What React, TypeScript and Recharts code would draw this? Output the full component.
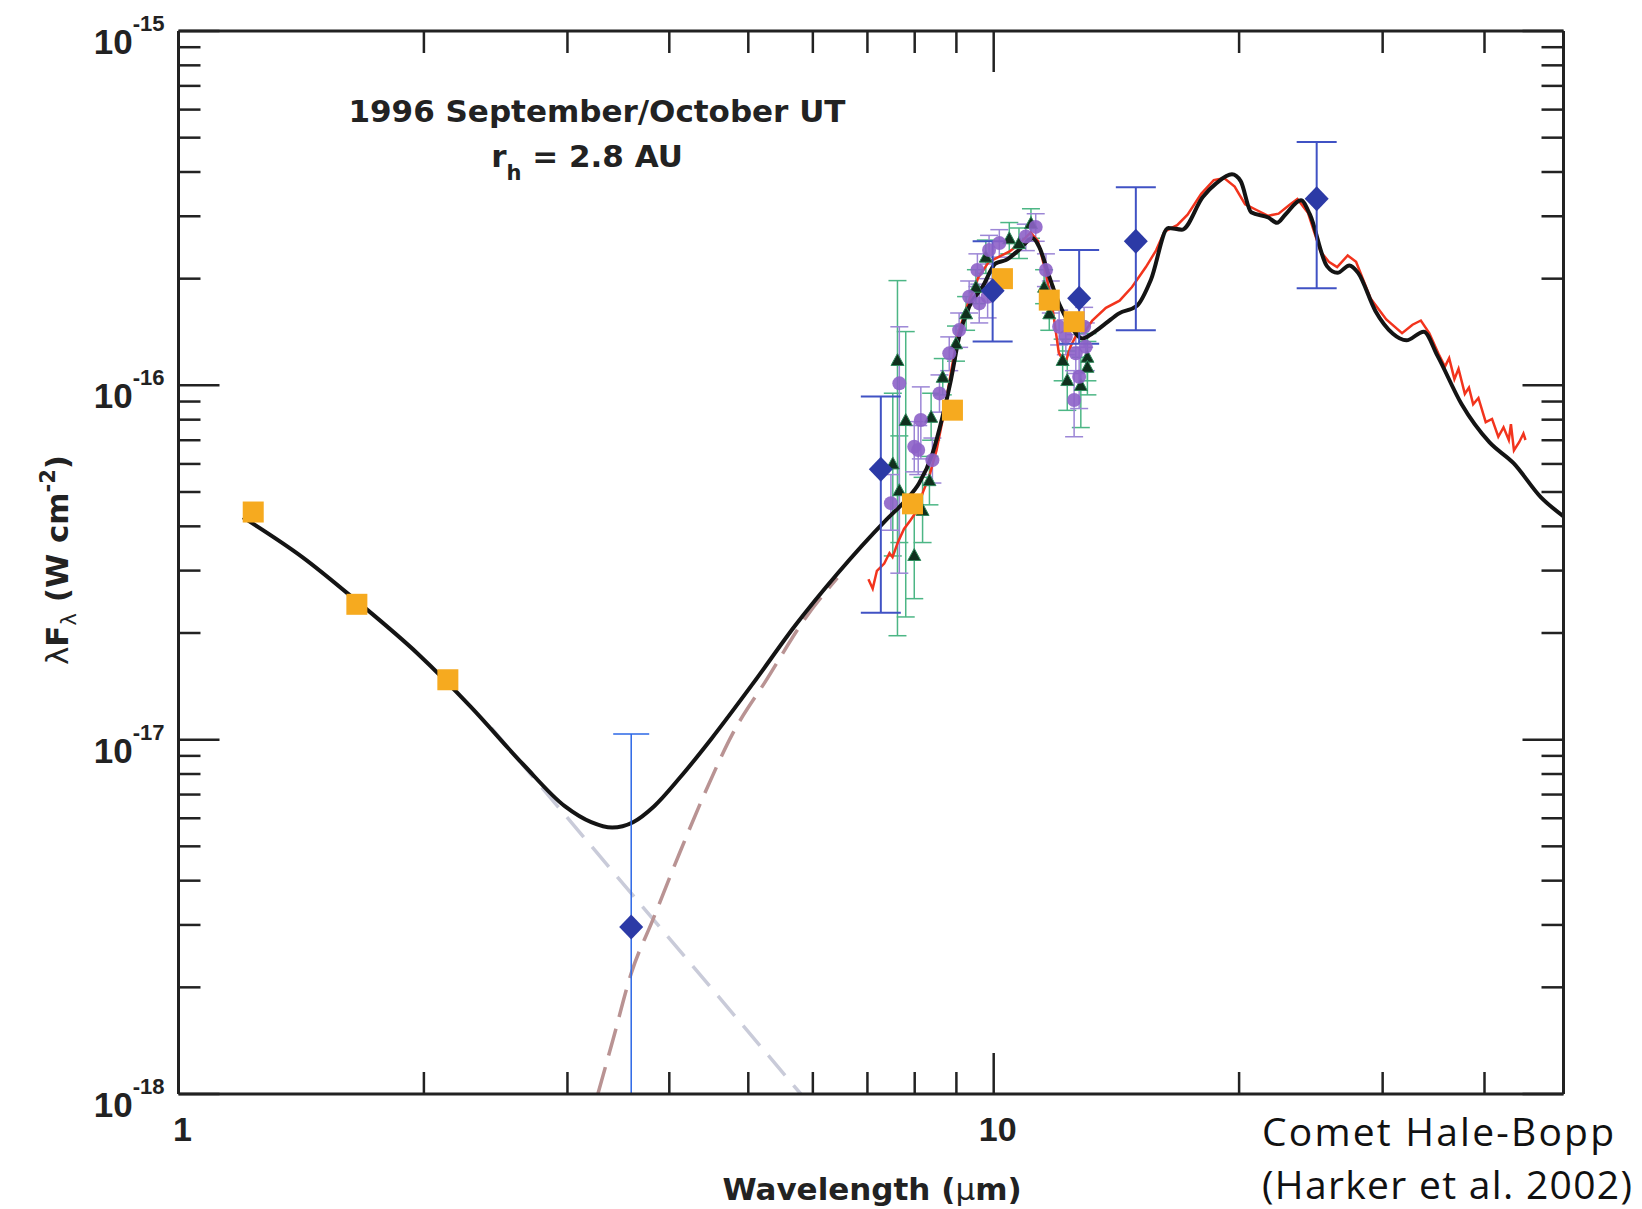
import React from "react";
import { ComposedChart, Line, Scatter, XAxis, YAxis, ErrorBar } from "recharts";

type Pt = [number, number]; // wavelength (µm), λFλ (W cm^-2)
type ErrPt = [number, number, number, number]; // w, f, low, high

// model fit (solid black)
const MODEL_FIT: Pt[] = [
  [1.2, 4.24e-17], [1.42, 3.27e-17], [1.655, 2.46e-17], [1.97, 1.74e-17], [2.285, 1.236e-17],
  [2.648, 8.51e-18], [2.98, 6.48e-18], [3.208, 5.85e-18], [3.404, 5.65e-18], [3.611, 5.85e-18],
  [3.83, 6.48e-18], [4.125, 7.83e-18], [4.508, 1.008e-17], [5.073, 1.446e-17], [5.708, 2.1e-17],
  [6.426, 2.935e-17], [7.376, 4.165e-17], [7.8, 4.74e-17], [8.1, 5.29e-17], [8.414, 6.43e-17],
  [8.654, 8.15e-17], [8.861, 1.035e-16], [9.07, 1.371e-16], [9.33, 1.666e-16], [9.69, 1.897e-16],
  [10.06, 2.21e-16], [10.35, 2.257e-16], [10.74, 2.41e-16], [11.16, 2.6e-16], [11.37, 2.46e-16],
  [11.7, 2.025e-16], [12.03, 1.7e-16], [12.38, 1.495e-16], [12.85, 1.356e-16], [13.21, 1.401e-16],
  [13.72, 1.495e-16], [14.25, 1.596e-16], [14.99, 1.677e-16], [15.59, 1.986e-16], [16.37, 2.78e-16],
  [17.02, 2.75e-16], [18.05, 3.4e-16], [18.76, 3.72e-16], [19.6, 3.94e-16], [20.09, 3.77e-16],
  [20.69, 3.08e-16], [21.73, 2.975e-16], [22.26, 2.875e-16], [22.81, 3.04e-16], [23.82, 3.33e-16],
  [24.42, 3.04e-16], [25.63, 2.17e-16], [26.4, 2.077e-16], [27.31, 2.18e-16], [27.99, 2.077e-16],
  [29.39, 1.622e-16], [30.86, 1.401e-16], [32.08, 1.34e-16], [33.69, 1.417e-16], [35.03, 1.211e-16],
  [37.5, 8.84e-17], [40.55, 6.91e-17], [43.42, 6.03e-17], [46.95, 4.82e-17], [50, 4.27e-17],
];

// mid-IR spectrum (red)
const SPECTRUM: Pt[] = [
  [7.02, 2.837e-17], [7.105, 2.668e-17], [7.19, 2.996e-17], [7.34, 3.14e-17], [7.45, 3.363e-17],
  [7.515, 3.273e-17], [7.627, 3.6e-17], [7.762, 3.933e-17], [7.901, 4.154e-17], [8.043, 4.416e-17],
  [8.187, 4.99e-17], [8.334, 5.527e-17], [8.508, 6.55e-17], [8.686, 8.315e-17], [8.842, 1.055e-16],
  [9.027, 1.385e-16], [9.297, 1.699e-16], [9.574, 2.014e-16], [9.862, 2.231e-16], [10.16, 2.308e-16],
  [10.46, 2.388e-16], [10.78, 2.522e-16], [11.1, 2.7e-16], [11.33, 2.557e-16], [11.6, 2.056e-16],
  [11.81, 1.643e-16], [12.02, 1.234e-16], [12.24, 1.153e-16], [12.42, 1.285e-16], [12.72, 1.433e-16],
  [12.98, 1.433e-16], [13.21, 1.524e-16], [13.73, 1.654e-16], [14.27, 1.734e-16], [14.78, 1.895e-16],
  [15.37, 2.157e-16], [15.82, 2.404e-16], [16.2, 2.717e-16], [16.79, 2.831e-16], [17.29, 3.03e-16],
  [17.97, 3.472e-16], [18.62, 3.793e-16], [19.17, 3.846e-16], [19.75, 3.64e-16], [20.34, 3.244e-16],
  [20.95, 3.135e-16], [21.71, 3.01e-16], [22.36, 3.051e-16], [23.03, 3.222e-16], [23.58, 3.357e-16],
  [24.29, 3.072e-16], [25.17, 2.388e-16], [25.77, 2.231e-16], [26.38, 2.157e-16], [27.18, 2.325e-16],
  [27.83, 2.231e-16], [29.0, 1.758e-16], [30.31, 1.535e-16], [31.69, 1.404e-16], [32.64, 1.483e-16],
  [33.42, 1.524e-16], [34.22, 1.404e-16], [35.14, 1.226e-16], [35.77, 1.129e-16], [36.2, 1.193e-16],
  [36.74, 1.041e-16], [37.17, 1.114e-16], [37.84, 9.46e-17], [38.28, 9.86e-17], [38.74, 8.84e-17],
  [39.32, 9.21e-17], [40.14, 7.87e-17], [40.86, 8.04e-17], [41.59, 7.16e-17], [42.21, 7.61e-17],
  [42.84, 7.01e-17], [43.1, 7.77e-17], [43.47, 6.55e-17], [44.13, 6.92e-17], [44.65, 7.31e-17],
  [44.91, 7.01e-17],
];

// scattered-light component (grey dashed) and thermal component (brown dashed)
const SCATTERED: Pt[] = [[2.42, 1.08e-17], [5.8, 1.0e-18]];
const THERMAL: Pt[] = [
  [3.269, 1.0e-18], [3.411, 1.42e-18], [3.592, 2.19e-18], [3.818, 3.1e-18], [4.117, 4.78e-18],
  [4.438, 7.2e-18], [4.784, 1.04e-17], [5.258, 1.47e-17], [5.88, 2.21e-17], [6.43, 2.86e-17],
];

// photometry
const SQUARES: Pt[] = [
  [1.235, 4.39e-17], [1.655, 2.41e-17], [2.14, 1.476e-17], [7.95, 4.63e-17],
  [8.9, 8.51e-17], [10.25, 2.0e-16], [11.7, 1.74e-16], [12.55, 1.512e-16],
];
// lower error of the 3.6 µm point runs off the bottom of the plot
const DIAMOND_L: ErrPt[] = [[3.592, 2.96e-18, 1e-18, 1.037e-17]];
const DIAMONDS: ErrPt[] = [
  [7.27, 5.8e-17, 2.28e-17, 9.3e-17], [9.97, 1.85e-16, 1.33e-16, 2.55e-16],
  [12.73, 1.76e-16, 1.31e-16, 2.41e-16], [14.94, 2.55e-16, 1.43e-16, 3.62e-16],
  [24.9, 3.36e-16, 1.88e-16, 4.86e-16],
];
const CIRCLES: ErrPt[] = [
  [7.48, 4.65e-17, 3.9e-17, 5.6e-17], [7.66, 1.013e-16, 2.95e-17, 1.463e-16],
  [7.99, 6.71e-17, 5.7e-17, 7.9e-17], [8.08, 6.57e-17, 5.6e-17, 7.7e-17],
  [8.14, 7.98e-17, 6.2e-17, 9.9e-17], [8.41, 6.15e-17, 5.3e-17, 7.1e-17],
  [8.58, 9.49e-17, 8.4e-17, 1.07e-16], [8.82, 1.231e-16, 1.1e-16, 1.37e-16],
  [9.07, 1.432e-16, 1.28e-16, 1.6e-16], [9.33, 1.778e-16, 1.6e-16, 1.97e-16],
  [9.55, 2.115e-16, 1.9e-16, 2.35e-16], [9.6, 1.703e-16, 1.5e-16, 1.93e-16],
  [9.83, 1.778e-16, 1.55e-16, 2.0e-16], [9.87, 2.41e-16, 2.2e-16, 2.65e-16],
  [10.16, 2.52e-16, 2.3e-16, 2.75e-16], [10.95, 2.63e-16, 2.4e-16, 2.85e-16],
  [11.26, 2.8e-16, 2.55e-16, 3.05e-16], [11.59, 2.115e-16, 1.9e-16, 2.35e-16],
  [11.75, 1.778e-16, 1.6e-16, 1.97e-16], [12.03, 1.463e-16, 1.3e-16, 1.63e-16],
  [12.26, 1.371e-16, 1.22e-16, 1.53e-16], [12.55, 9.09e-17, 7.16e-17, 1.1e-16],
  [12.61, 1.231e-16, 1.08e-16, 1.39e-16], [12.73, 1.057e-16, 8.6e-17, 1.28e-16],
  [12.91, 1.463e-16, 1.28e-16, 1.66e-16], [12.97, 1.285e-16, 1.1e-16, 1.5e-16],
];
const TRIANGLES: ErrPt[] = [
  [7.52, 6.02e-17, 3.3e-17, 9.5e-17], [7.62, 1.179e-16, 1.965e-17, 1.975e-16],
  [7.66, 5.06e-17, 3.6e-17, 7.2e-17], [7.8, 7.98e-17, 2.22e-17, 1.418e-16],
  [7.99, 3.32e-17, 2.5e-17, 4.4e-17], [8.18, 4.45e-17, 3.6e-17, 5.5e-17],
  [8.34, 5.4e-17, 4.6e-17, 6.3e-17], [8.38, 8.15e-17, 7.0e-17, 9.5e-17],
  [8.66, 1.057e-16, 9.4e-17, 1.19e-16], [8.99, 1.314e-16, 1.17e-16, 1.47e-16],
  [9.25, 1.597e-16, 1.43e-16, 1.78e-16], [9.51, 1.898e-16, 1.7e-16, 2.12e-16],
  [9.78, 2.307e-16, 2.07e-16, 2.57e-16], [10.45, 2.6e-16, 2.35e-16, 2.88e-16],
  [10.74, 2.52e-16, 2.28e-16, 2.78e-16], [11.11, 2.87e-16, 2.6e-16, 3.15e-16],
  [11.53, 1.898e-16, 1.7e-16, 2.12e-16], [11.7, 1.597e-16, 1.43e-16, 1.78e-16],
  [12.15, 1.179e-16, 1.03e-16, 1.35e-16], [12.31, 1.035e-16, 8.5e-17, 1.25e-16],
  [12.79, 1.002e-16, 7.6e-17, 1.2e-16], [13.03, 1.204e-16, 1.03e-16, 1.4e-16],
  [13.03, 1.128e-16, 9.4e-17, 1.33e-16],
];

const X_TICKS = [1, 2, 3, 4, 5, 6, 7, 8, 9, 10, 20, 30, 40];
const Y_TICKS = [
  1e-18, 2e-18, 3e-18, 4e-18, 5e-18, 6e-18, 7e-18, 8e-18, 9e-18,
  1e-17, 2e-17, 3e-17, 4e-17, 5e-17, 6e-17, 7e-17, 8e-17, 9e-17,
  1e-16, 2e-16, 3e-16, 4e-16, 5e-16, 6e-16, 7e-16, 8e-16, 9e-16, 1e-15,
];

const rows = (pts: Pt[]) => pts.map(([w, f]) => ({ w, f }));
const errRows = (pts: ErrPt[]) => pts.map(([w, f, lo, hi]) => ({ w, f, err: [f - lo, hi - f] }));

const isDecade = (v: number) => {
  const e = Math.log10(v);
  return Math.abs(e - Math.round(e)) < 1e-6;
};

const AXIS = "#222";
const TICK_FONT = "'Liberation Sans', Arial, sans-serif";
const LABEL_FONT = "'DejaVu Sans', sans-serif";

function BottomTick({ x, y, payload }: any) {
  const major = isDecade(payload.value);
  return (
    <g>
      <line x1={x} y1={y} x2={x} y2={y - (major ? 41 : 22)} stroke={AXIS} strokeWidth={2.5} />
      {major && (
        <text x={x + 4} y={y + 47} textAnchor="middle" fontFamily={TICK_FONT} fontWeight="bold" fontSize={34} fill={AXIS}>
          {payload.value}
        </text>
      )}
    </g>
  );
}

function TopTick({ x, y, payload }: any) {
  const major = isDecade(payload.value);
  return <line x1={x} y1={y} x2={x} y2={y + (major ? 41 : 22)} stroke={AXIS} strokeWidth={2.5} />;
}

function LeftTick({ x, y, payload }: any) {
  const major = isDecade(payload.value);
  const exp = Math.round(Math.log10(payload.value));
  return (
    <g>
      <line x1={x} y1={y} x2={x + (major ? 41 : 22)} y2={y} stroke={AXIS} strokeWidth={2.5} />
      {major && (
        <text x={x - 14} y={y + 23} textAnchor="end" fontFamily={TICK_FONT} fontWeight="bold" fill={AXIS}>
          <tspan fontSize={35}>10</tspan>
          <tspan fontSize={22} dy={-23}>{exp}</tspan>
        </text>
      )}
    </g>
  );
}

function RightTick({ x, y, payload }: any) {
  const major = isDecade(payload.value);
  return <line x1={x} y1={y} x2={x - (major ? 41 : 22)} y2={y} stroke={AXIS} strokeWidth={2.5} />;
}

const Square = ({ cx, cy }: any) => <rect x={cx - 10.5} y={cy - 10.5} width={21} height={21} fill="#f6aa1f" />;
const Diamond = ({ cx, cy }: any) => (
  <polygon points={`${cx},${cy - 12.5} ${cx + 12},${cy} ${cx},${cy + 12.5} ${cx - 12},${cy}`} fill="#2c3aa6" />
);
const Circle = ({ cx, cy }: any) => <circle cx={cx} cy={cy} r={7} fill="#8d62c8" fillOpacity={0.9} />;
const Triangle = ({ cx, cy }: any) => (
  <polygon points={`${cx},${cy - 6.5} ${cx - 6.5},${cy + 5.5} ${cx + 6.5},${cy + 5.5}`} fill="#10301d" stroke="#2f8a5c" strokeWidth={1} />
);

export default function App() {
  return (
    <div style={{ position: "absolute", left: 0, top: 0, width: 1642, height: 1209, background: "#fff" }}>
      <ComposedChart width={1642} height={1209} margin={{ top: 30, right: 77.5, bottom: 55, left: 58.5 }}>
        <XAxis
          dataKey="w"
          type="number"
          scale="log"
          domain={[1, 50]}
          allowDataOverflow
          ticks={X_TICKS}
          interval={0}
          height={60}
          tickSize={0}
          tickMargin={0}
          tickLine={false}
          axisLine={{ stroke: AXIS, strokeWidth: 3 }}
          tick={<BottomTick />}
        />
        <XAxis
          xAxisId="top"
          orientation="top"
          dataKey="w"
          type="number"
          scale="log"
          domain={[1, 50]}
          allowDataOverflow
          ticks={X_TICKS}
          interval={0}
          height={1}
          tickSize={0}
          tickMargin={0}
          tickLine={false}
          axisLine={{ stroke: AXIS, strokeWidth: 3 }}
          tick={<TopTick />}
        />
        <YAxis
          dataKey="f"
          type="number"
          scale="log"
          domain={[1e-18, 1e-15]}
          allowDataOverflow
          ticks={Y_TICKS}
          interval={0}
          width={120}
          tickSize={0}
          tickMargin={0}
          tickLine={false}
          axisLine={{ stroke: AXIS, strokeWidth: 3 }}
          tick={<LeftTick />}
        />
        <YAxis
          yAxisId="right"
          orientation="right"
          dataKey="f"
          type="number"
          scale="log"
          domain={[1e-18, 1e-15]}
          allowDataOverflow
          ticks={Y_TICKS}
          interval={0}
          width={1}
          tickSize={0}
          tickMargin={0}
          tickLine={false}
          axisLine={{ stroke: AXIS, strokeWidth: 3 }}
          tick={<RightTick />}
        />

        <Line data={rows(SCATTERED)} dataKey="f" type="linear" stroke="#c9cbd9" strokeWidth={3.5}
          strokeDasharray="26 13" dot={false} isAnimationActive={false} />
        <Line data={rows(THERMAL)} dataKey="f" type="monotone" stroke="#b99393" strokeWidth={3.5}
          strokeDasharray="28 12" dot={false} isAnimationActive={false} />

        <Scatter data={errRows(TRIANGLES)} shape={<Triangle />} isAnimationActive={false}>
          <ErrorBar dataKey="err" direction="y" width={9} stroke="#4cb685" strokeWidth={1.5} />
        </Scatter>
        <Scatter data={errRows(CIRCLES)} shape={<Circle />} isAnimationActive={false}>
          <ErrorBar dataKey="err" direction="y" width={9} stroke="#9c86d6" strokeWidth={1.5} />
        </Scatter>

        <Line data={rows(SPECTRUM)} dataKey="f" type="linear" stroke="#f2341d" strokeWidth={2.5}
          dot={false} isAnimationActive={false} />

        <Scatter data={rows(SQUARES)} shape={<Square />} isAnimationActive={false} />

        <Line data={rows(MODEL_FIT)} dataKey="f" type="monotone" stroke="#141414" strokeWidth={4}
          dot={false} isAnimationActive={false} />

        <Scatter data={errRows(DIAMOND_L)} shape={<Diamond />} isAnimationActive={false}>
          <ErrorBar dataKey="err" direction="y" width={18} stroke="#2b67e6" strokeWidth={1.5} />
        </Scatter>
        <Scatter data={errRows(DIAMONDS)} shape={<Diamond />} isAnimationActive={false}>
          <ErrorBar dataKey="err" direction="y" width={20} stroke="#4052c4" strokeWidth={2} />
        </Scatter>
      </ComposedChart>

      <svg width={1642} height={1209} style={{ position: "absolute", left: 0, top: 0, pointerEvents: "none" }}>
        <text transform="translate(68, 560) rotate(-90)" textAnchor="middle" fontFamily={LABEL_FONT}
          fontWeight="bold" fontSize={31} fill={AXIS}>
          <tspan fontWeight="normal">λ</tspan>
          <tspan>F</tspan>
          <tspan fontWeight="normal" fontSize={21} dy={8}>λ</tspan>
          <tspan dy={-8}> (W cm</tspan>
          <tspan fontSize={21} dy={-13}>-2</tspan>
          <tspan dy={13}>)</tspan>
        </text>
        <text x={872} y={1200} textAnchor="middle" fontFamily={LABEL_FONT} fontWeight="bold" fontSize={31} fill={AXIS}>
          Wavelength (<tspan fontWeight="normal">μ</tspan>m)
        </text>
        <text x={597} y={122} textAnchor="middle" fontFamily={LABEL_FONT} fontWeight="bold" fontSize={31} fill={AXIS}>
          1996 September/October UT
        </text>
        <text x={587} y={167} textAnchor="middle" fontFamily={LABEL_FONT} fontWeight="bold" fontSize={31} fill={AXIS}>
          r<tspan fontSize={21} dy={13}>h</tspan>
          <tspan dy={-13}> = 2.8 AU</tspan>
        </text>
        <text x={1262} y={1146} fontFamily="'Open Sans', sans-serif" fontSize={39} fill="#111"
          textLength={352} lengthAdjust="spacing">
          Comet Hale-Bopp
        </text>
        <text x={1262} y={1199} fontFamily="'Open Sans', sans-serif" fontSize={39} fill="#111"
          textLength={370} lengthAdjust="spacing">
          (Harker et al. 2002)
        </text>
      </svg>
    </div>
  );
}
